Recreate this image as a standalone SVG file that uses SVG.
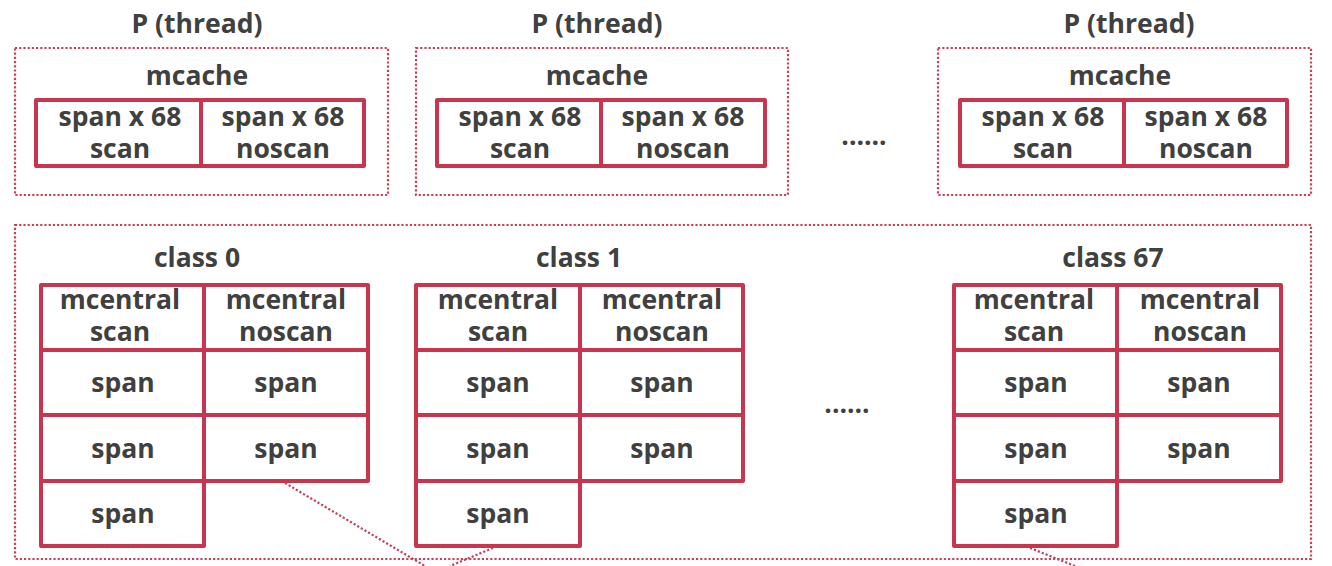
<svg xmlns="http://www.w3.org/2000/svg" width="1332" height="566" viewBox="0 0 1332 566">
<style>
.dot{fill:none;stroke:#C8405A;stroke-width:2.2;stroke-dasharray:2.2 2}
.box{fill:#fff;stroke:#C8354F;stroke-width:4;stroke-linejoin:round}
.ln{stroke:#C8354F;stroke-width:4}
text{font-family:"Open Sans","Noto Sans","Liberation Sans",sans-serif;font-weight:bold;font-size:26.5px;fill:#404040;text-anchor:middle}
</style>
<rect width="1332" height="566" fill="#fff"/>
<g id="connectors">
<path class="dot" d="M285 483 L425 566"/>
<path class="dot" d="M493 548 L450 566"/>
<path class="dot" d="M1030 548 L1075 566"/>
</g>
<g id="p0">
<text x="197" y="33">P (thread)</text>
<rect class="dot" x="15" y="48" width="373" height="147"/>
<text x="197" y="85">mcache</text>
<rect class="box" x="36" y="100" width="328" height="66"/>
<line class="ln" x1="201" y1="100" x2="201" y2="166"/>
<text x="120" y="126">span x 68</text><text x="120" y="158">scan</text>
<text x="283" y="126">span x 68</text><text x="283" y="158">noscan</text>
</g>
<g id="p1">
<text x="597" y="33">P (thread)</text>
<rect class="dot" x="416" y="48" width="372" height="147"/>
<text x="597" y="85">mcache</text>
<rect class="box" x="437" y="100" width="328" height="66"/>
<line class="ln" x1="601" y1="100" x2="601" y2="166"/>
<text x="520" y="126">span x 68</text><text x="520" y="158">scan</text>
<text x="683" y="126">span x 68</text><text x="683" y="158">noscan</text>
</g>
<g id="dots-top"><text x="864" y="145">......</text></g>
<g id="p2">
<text x="1129" y="33">P (thread)</text>
<rect class="dot" x="938" y="48" width="373" height="147"/>
<text x="1120" y="85">mcache</text>
<rect class="box" x="960" y="100" width="327" height="66"/>
<line class="ln" x1="1124" y1="100" x2="1124" y2="166"/>
<text x="1043" y="126">span x 68</text><text x="1043" y="158">scan</text>
<text x="1206" y="126">span x 68</text><text x="1206" y="158">noscan</text>
</g>
<g id="heap">
<rect class="dot" x="15" y="225" width="1296" height="334"/>
</g>
<g id="class0">
<text x="197" y="267">class 0</text>
<rect class="box" x="41" y="285" width="327" height="196"/>
<rect class="box" x="41" y="481" width="163" height="65"/>
<line class="ln" x1="204" y1="285" x2="204" y2="481"/>
<line class="ln" x1="41" y1="350" x2="368" y2="350"/>
<line class="ln" x1="41" y1="415" x2="368" y2="415"/>
<text x="120" y="309">mcentral</text><text x="120" y="341">scan</text>
<text x="286" y="309">mcentral</text><text x="286" y="341">noscan</text>
<text x="123" y="392">span</text><text x="286" y="392">span</text>
<text x="123" y="458">span</text><text x="286" y="458">span</text>
<text x="123" y="523">span</text>
</g>
<g id="class1">
<text x="579" y="267">class 1</text>
<rect class="box" x="416" y="285" width="327" height="196"/>
<rect class="box" x="416" y="481" width="164" height="65"/>
<line class="ln" x1="580" y1="285" x2="580" y2="481"/>
<line class="ln" x1="416" y1="350" x2="743" y2="350"/>
<line class="ln" x1="416" y1="415" x2="743" y2="415"/>
<text x="498" y="309">mcentral</text><text x="498" y="341">scan</text>
<text x="662" y="309">mcentral</text><text x="662" y="341">noscan</text>
<text x="498" y="392">span</text><text x="662" y="392">span</text>
<text x="498" y="458">span</text><text x="662" y="458">span</text>
<text x="498" y="523">span</text>
</g>
<g id="dots-mid"><text x="847" y="413">......</text></g>
<g id="class67">
<text x="1113" y="267">class 67</text>
<rect class="box" x="954" y="285" width="327" height="196"/>
<rect class="box" x="954" y="481" width="163" height="65"/>
<line class="ln" x1="1117" y1="285" x2="1117" y2="481"/>
<line class="ln" x1="954" y1="350" x2="1281" y2="350"/>
<line class="ln" x1="954" y1="415" x2="1281" y2="415"/>
<text x="1034" y="309">mcentral</text><text x="1034" y="341">scan</text>
<text x="1200" y="309">mcentral</text><text x="1200" y="341">noscan</text>
<text x="1036" y="392">span</text><text x="1199" y="392">span</text>
<text x="1036" y="458">span</text><text x="1199" y="458">span</text>
<text x="1036" y="523">span</text>
</g>
</svg>
